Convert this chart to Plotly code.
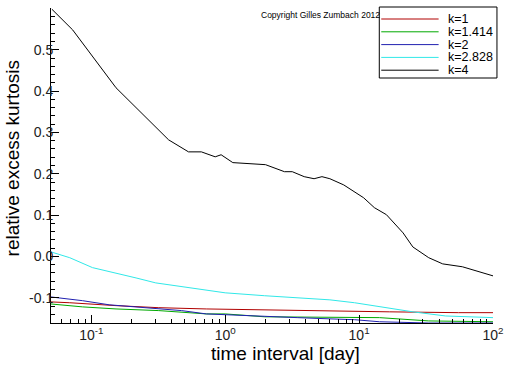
import plotly.graph_objects as go

# ---- data ----
names = ["k=1", "k=1.414", "k=2", "k=2.828", "k=4"]
colors = ["#b00000", "#00a800", "#2020b0", "#30e8e8", "#000000"]

x_k1 = [0.05, 0.069, 0.153, 0.319, 0.722, 1.48, 4.85, 9.25, 16.8, 55.2, 100]
y_k1 = [-0.110, -0.112, -0.119, -0.124, -0.127, -0.129, -0.131, -0.134, -0.134, -0.136, -0.136]

x_k1414 = [0.05, 0.086, 0.153, 0.319, 0.722, 1.0, 1.97, 6.05, 14.2, 33.1, 100]
y_k1414 = [-0.115, -0.122, -0.127, -0.131, -0.139, -0.139, -0.146, -0.148, -0.148, -0.156, -0.158]

x_k2 = [0.05, 0.086, 0.136, 0.239, 0.472, 0.722, 1.0, 1.97, 3.45, 6.05, 9.25, 14.2, 33.1, 100]
y_k2 = [-0.098, -0.107, -0.117, -0.124, -0.131, -0.139, -0.141, -0.146, -0.148, -0.151, -0.153, -0.158, -0.161, -0.161]

x_k2828 = [0.05, 0.069, 0.102, 0.153, 0.216, 0.303, 0.472, 0.722, 1.0, 1.97, 3.45, 6.05, 9.25, 14.2, 25.2, 44.3, 100]
y_k2828 = [0.011, -0.003, -0.027, -0.040, -0.052, -0.064, -0.073, -0.083, -0.088, -0.095, -0.100, -0.105, -0.112, -0.122, -0.134, -0.144, -0.148]

x_k4 = [0.0508, 0.0726, 0.153, 0.378, 0.532, 0.664, 0.842, 0.932, 1.14, 1.75, 2.0, 2.77,
        3.17, 3.89, 4.61, 5.28, 6.05, 7.68, 9.58, 10.8, 13.0, 16.0, 21.3, 25.2, 33.1, 42.1, 59.1, 100]
y_k4 = [0.598, 0.548, 0.408, 0.282, 0.253, 0.253, 0.241, 0.246, 0.227, 0.224, 0.222, 0.205,
        0.205, 0.193, 0.188, 0.193, 0.188, 0.173, 0.154, 0.142, 0.118, 0.101, 0.057, 0.023, -0.003, -0.018, -0.025, -0.047]

xs = [x_k1, x_k1414, x_k2, x_k2828, x_k4]
ys = [y_k1, y_k1414, y_k2, y_k2828, y_k4]

x_tickvals = [0.1, 1, 10, 100]
x_ticktext = ["10<sup>-1</sup>", "10<sup>0</sup>", "10<sup>1</sup>", "10<sup>2</sup>"]
y_tickvals = [-0.1, 0.0, 0.1, 0.2, 0.3, 0.4, 0.5]
y_ticktext = ["-0.1", "0.0", "0.1", "0.2", "0.3", "0.4", "0.5"]

FONT = "Liberation Sans, Arial, sans-serif"

fig = go.Figure()
for x, y, n, c in zip(xs, ys, names, colors):
    fig.add_trace(go.Scatter(x=x, y=y, mode="lines", name=n,
                             line=dict(color=c, width=1), showlegend=False))

x_minor = [k * 10 ** e for e in range(-2, 2) for k in range(2, 10)]

fig.update_layout(
    width=512, height=366,
    margin=dict(l=51, r=14, t=8, b=43),
    paper_bgcolor="white", plot_bgcolor="white",
    font=dict(family=FONT, color="black"),
    showlegend=False,
    xaxis=dict(type="log", range=[-1.301, 2.0], showgrid=False, zeroline=False,
               showline=True, linecolor="black", linewidth=1,
               tickmode="array", tickvals=x_tickvals, ticktext=x_ticktext,
               ticks="inside", ticklen=8, tickcolor="black",
               tickfont=dict(size=14, color="#222"), ticklabelstandoff=-1,
               minor=dict(tickmode="array", tickvals=x_minor, ticks="inside",
                          ticklen=4, tickcolor="black", showgrid=False)),
    yaxis=dict(range=[-0.161, 0.601], showgrid=False, zeroline=False,
               showline=True, linecolor="black", linewidth=1,
               tickmode="array", tickvals=y_tickvals, ticktext=y_ticktext,
               ticks="inside", ticklen=8, tickcolor="black",
               tickfont=dict(size=14, color="#222"), ticklabelstandoff=-6,
               minor=dict(dtick=0.02, tick0=0, ticks="inside", ticklen=4,
                          tickcolor="black", showgrid=False)),
)


def px_x(p):
    return (p - 51) / 447


def px_y(p):
    return (323 - p) / 315


# axis titles
fig.add_annotation(text="time interval [day]", xref="paper", yref="paper",
                   x=px_x(288), y=px_y(353), xanchor="center", yanchor="middle",
                   showarrow=False, font=dict(size=19, family=FONT, color="black"))
fig.add_annotation(text="relative excess kurtosis", xref="paper", yref="paper",
                   x=px_x(12), y=px_y(158), xanchor="center", yanchor="middle",
                   showarrow=False, textangle=-90,
                   font=dict(size=19, family=FONT, color="black"))

# copyright
fig.add_annotation(text="Copyright Gilles Zumbach 2012", xref="paper", yref="paper",
                   x=px_x(261), y=px_y(15), xanchor="left", yanchor="middle", showarrow=False,
                   font=dict(size=8.5, family=FONT, color="black"))

# manual legend box
fig.add_shape(type="rect", xref="paper", yref="paper",
              x0=px_x(383), x1=px_x(502), y0=px_y(78), y1=px_y(7),
              line=dict(color="black", width=1), fillcolor="white", layer="above")
for i, (n, c) in enumerate(zip(names, colors)):
    yy = 19 + i * 12.8
    fig.add_shape(type="line", xref="paper", yref="paper",
                  x0=px_x(385), x1=px_x(443), y0=px_y(yy), y1=px_y(yy),
                  line=dict(color=c, width=1), layer="above")
    fig.add_annotation(text=n, xref="paper", yref="paper", x=px_x(451), y=px_y(yy),
                       xanchor="left", yanchor="middle", showarrow=False, borderpad=0,
                       font=dict(size=12.5, family=FONT, color="black"))

fig.write_html("out.html", config={"displayModeBar": False},
               post_script="document.body.style.margin='0px';")
